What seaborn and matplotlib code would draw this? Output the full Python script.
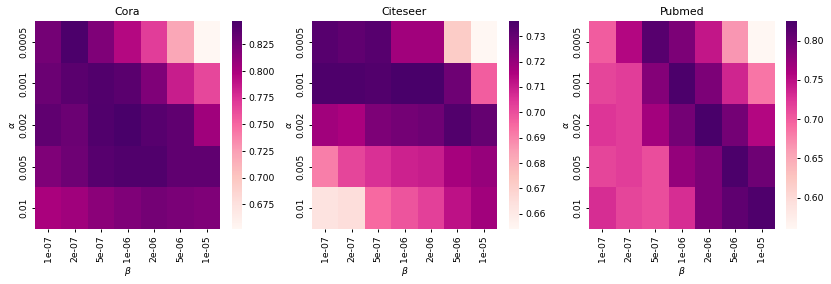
import matplotlib
matplotlib.use('Agg')
import matplotlib.pyplot as plt
import numpy as np
import pandas as pd
import seaborn as sns

alphas = ['0.0005', '0.001', '0.002', '0.005', '0.01']
betas = ['1e-07', '2e-07', '5e-07', '1e-06', '2e-06', '5e-06', '1e-05']

cora = [
    [0.825, 0.845, 0.820, 0.795, 0.770, 0.720, 0.652],
    [0.830, 0.838, 0.842, 0.838, 0.820, 0.785, 0.765],
    [0.835, 0.830, 0.843, 0.847, 0.840, 0.835, 0.805],
    [0.820, 0.828, 0.840, 0.843, 0.843, 0.835, 0.835],
    [0.800, 0.805, 0.815, 0.820, 0.825, 0.822, 0.820],
]
citeseer = [
    [0.733, 0.731, 0.733, 0.718, 0.718, 0.672, 0.654],
    [0.735, 0.735, 0.734, 0.736, 0.736, 0.728, 0.697],
    [0.718, 0.716, 0.725, 0.727, 0.728, 0.734, 0.730],
    [0.691, 0.702, 0.706, 0.709, 0.710, 0.717, 0.720],
    [0.663, 0.665, 0.695, 0.699, 0.703, 0.712, 0.718],
]
pubmed = [
    [0.700, 0.755, 0.815, 0.790, 0.745, 0.665, 0.560],
    [0.715, 0.720, 0.785, 0.822, 0.790, 0.735, 0.685],
    [0.725, 0.720, 0.765, 0.795, 0.825, 0.795, 0.755],
    [0.715, 0.720, 0.710, 0.775, 0.790, 0.822, 0.800],
    [0.730, 0.715, 0.710, 0.730, 0.790, 0.810, 0.820],
]

datasets = {'Cora': cora, 'Citeseer': citeseer, 'Pubmed': pubmed}

sns.set_theme(style='white', rc={'text.color': 'black', 'axes.labelcolor': 'black',
                                 'xtick.color': 'black', 'ytick.color': 'black'})
plt.rcParams['font.family'] = ['DejaVu Sans']

W, H = 831, 284
fig = plt.figure(figsize=(W / 100, H / 100), dpi=100)

# pixel boxes: (left, right) for heatmap and colorbar
boxes = [((35, 220), (232, 242)),
         ((312, 497), (509, 519)),
         ((589, 775), (786, 797))]
bottom, top = 55, 263

for (name, vals), ((l, r), (cl, cr)) in zip(datasets.items(), boxes):
    ax = fig.add_axes([l / W, bottom / H, (r - l) / W, (top - bottom) / H])
    cax = fig.add_axes([cl / W, bottom / H, (cr - cl) / W, (top - bottom) / H])
    df = pd.DataFrame(vals, index=alphas, columns=betas)
    sns.heatmap(df, ax=ax, cbar_ax=cax, cmap='RdPu')
    ax.set_title(name, fontsize=7.8, pad=4)
    ax.set_xlabel(r'$\beta$', fontsize=6.7, labelpad=2)
    ax.set_ylabel(r'$\alpha$', fontsize=6.7, labelpad=2)
    ax.tick_params(axis='both', labelsize=6.7, length=2.5, width=0.7, pad=2,
                   left=True, bottom=True)
    ax.set_xticklabels(betas, rotation=90)
    ax.set_yticklabels(alphas, rotation=90, va='center')
    cax.tick_params(labelsize=6.7, length=2.5, width=0.7, pad=2)
    for s in cax.spines.values():
        s.set_visible(False)

plt.savefig('out.png', dpi=100)
plt.close('all')
